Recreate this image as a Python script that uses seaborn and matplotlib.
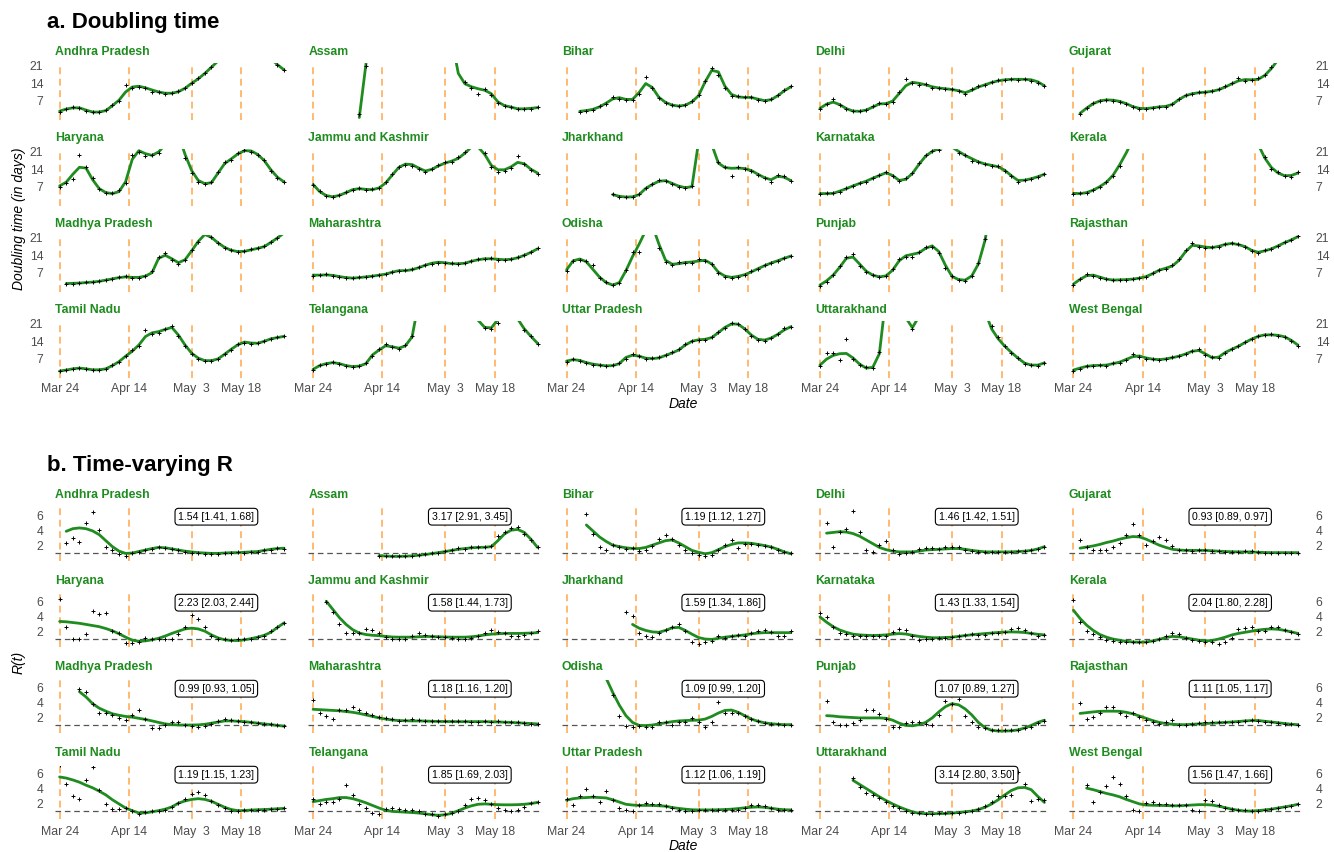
import numpy as np
import pandas as pd
import matplotlib
matplotlib.use("Agg")
import matplotlib.pyplot as plt
import seaborn as sns

N = None

# ---------------------------------------------------------------- data
STATES = [
    "Andhra Pradesh", "Assam", "Bihar", "Delhi", "Gujarat",
    "Haryana", "Jammu and Kashmir", "Jharkhand", "Karnataka", "Kerala",
    "Madhya Pradesh", "Maharashtra", "Odisha", "Punjab", "Rajasthan",
    "Tamil Nadu", "Telangana", "Uttar Pradesh", "Uttarakhand", "West Bengal",
]
DAYS = list(range(0, 69, 2))            # days since 24 March
TICK_DAYS = [0, 21, 40, 55]
TICK_LABELS = ["Mar 24", "Apr 14", "May  3", "May 18"]
LOCKDOWN_DAYS = [0, 21, 40, 55]
DT_TICKS = [7, 14, 21]
R_TICKS = [2, 4, 6]

R_LABELS = [
    "1.54 [1.41, 1.68]", "3.17 [2.91, 3.45]", "1.19 [1.12, 1.27]", "1.46 [1.42, 1.51]", "0.93 [0.89, 0.97]",
    "2.23 [2.03, 2.44]", "1.58 [1.44, 1.73]", "1.59 [1.34, 1.86]", "1.43 [1.33, 1.54]", "2.04 [1.80, 2.28]",
    "0.99 [0.93, 1.05]", "1.18 [1.16, 1.20]", "1.09 [0.99, 1.20]", "1.07 [0.89, 1.27]", "1.11 [1.05, 1.17]",
    "1.19 [1.15, 1.23]", "1.85 [1.69, 2.03]", "1.12 [1.06, 1.19]", "3.14 [2.80, 3.50]", "1.56 [1.47, 1.66]",
]

# doubling time: smoothed fit and daily estimates
andhra_pradesh_dt_fit = [2.8, 3.6, 4.1, 4.1, 3.2, 2.4, 2.4, 3.0, 5.0, 7.2, 10.5, 12.5, 12.8, 12.2, 11.3, 10.5, 10.0, 10.0, 10.6, 12.0, 14.0, 15.8, 18.0, 20.5, 23.0, 26.0, 29.0, 31.0, 32.0, 32.0, 30.0, 27.0, 24.0, 21.5, 19.4]
andhra_pradesh_dt_obs = [2.5, 3.8, 4.3, 4.0, 3.0, 2.3, 2.4, 3.3, 5.4, 6.8, 13.2, 12.3, 12.6, 11.9, 10.6, 10.4, 9.8, 10.1, 10.8, 12.3, 14.2, 16.0, 18.2, 20.6, N, N, N, N, N, N, N, N, N, 21.2, 19.2]
assam_dt_fit = [N, N, N, N, N, N, N, 0.2, 21.5, 45, 60, 60, 60, 60, 60, 60, 60, 55, 50, 48, 42, 32, 18.0, 13.8, 12.6, 11.8, 11.2, 9.8, 6.5, 5.0, 4.4, 3.7, 3.7, 3.9, 4.2]
assam_dt_obs = [N, N, N, N, N, N, N, 1.6, 21.0, N, N, N, N, N, N, N, N, N, N, N, N, N, N, 14.5, 12.0, 9.5, 11.8, 9.3, 6.0, 4.8, 4.3, 3.6, 3.6, 3.8, 4.3]
bihar_dt_fit = [N, N, 2.7, 3.0, 3.5, 4.5, 6.0, 7.7, 8.2, 7.5, 7.5, 10.3, 13.9, 12.3, 8.3, 6.3, 5.2, 4.8, 5.2, 6.5, 9.0, 14.6, 19.2, 18.6, 12.8, 9.5, 8.5, 8.3, 8.3, 7.6, 7.0, 7.4, 9.0, 11.0, 12.6]
bihar_dt_obs = [N, N, 2.6, 3.0, 3.4, 4.7, 5.8, 8.5, 7.8, 7.2, 7.3, 9.5, 16.5, 12.0, 8.0, 6.1, 5.3, 4.7, 5.2, 6.7, 9.3, 15.0, 20.0, 17.5, 12.0, 9.0, 8.8, 8.3, 8.6, 7.4, 7.0, 7.6, 9.2, 11.2, 12.8]
delhi_dt_fit = [3.9, 5.6, 6.4, 5.4, 3.8, 2.8, 2.7, 3.2, 4.4, 5.7, 5.8, 6.8, 9.9, 13.0, 14.4, 14.0, 13.4, 12.6, 12.1, 11.8, 11.5, 11.0, 10.2, 11.2, 12.5, 13.4, 14.3, 15.0, 15.4, 15.6, 15.6, 15.6, 15.4, 14.6, 13.0]
delhi_dt_obs = [3.7, 5.5, 7.8, 5.2, 3.6, 2.7, 2.8, 3.3, 4.8, 6.0, 5.5, 6.5, 10.5, 15.8, 14.0, 13.4, 13.6, 12.2, 12.3, 11.5, 11.8, 10.8, 9.8, 11.5, 12.8, 13.5, 14.5, 15.2, 15.5, 15.7, 15.4, 15.8, 15.0, 14.2, 12.8]
gujarat_dt_fit = [N, 1.9, 4.0, 5.8, 6.9, 7.3, 7.2, 6.7, 5.8, 4.6, 3.9, 3.8, 4.1, 4.5, 4.7, 5.5, 7.5, 9.0, 9.8, 10.2, 10.4, 10.8, 11.4, 12.5, 13.8, 15.0, 15.5, 15.4, 15.6, 17.2, 20.0, 23.5, 27.0, 31.0, 35.0]
gujarat_dt_obs = [N, 1.7, 4.2, 5.9, 7.0, 7.4, 7.0, 6.6, 5.7, 4.3, 3.8, 3.7, 4.2, 4.5, 4.6, 5.8, 7.6, 9.1, 9.8, 10.3, 10.4, 11.0, 11.6, 12.8, 14.0, 16.0, 14.8, 15.3, 16.0, 17.2, 20.5, N, N, N, N]
haryana_dt_fit = [7.3, 8.8, 12.0, 14.8, 14.5, 9.8, 6.2, 4.6, 4.2, 5.0, 9.0, 18.0, 21.5, 20.3, 19.6, 21.0, 24.0, 30.0, 28.0, 20.0, 13.5, 9.5, 8.2, 8.6, 12.5, 16.3, 18.2, 20.2, 21.5, 21.4, 20.0, 17.5, 13.8, 10.8, 8.9]
haryana_dt_obs = [7.0, 8.6, 10.2, 19.9, 14.8, 10.3, 6.0, 4.5, 4.3, 5.5, 8.5, 19.8, 21.0, 19.5, 19.6, 20.5, N, N, N, 18.5, 12.5, 9.0, 8.0, 9.0, 13.0, 16.8, 17.8, 20.5, 21.8, 21.0, 19.8, 17.6, 13.5, 10.5, 8.7]
jammu_kashmir_dt_fit = [7.9, 5.0, 3.4, 2.9, 3.5, 4.6, 5.8, 6.2, 5.9, 5.8, 6.5, 8.5, 11.7, 14.8, 16.1, 15.9, 14.5, 13.3, 14.0, 15.4, 16.5, 17.3, 18.4, 20.5, 23.0, 23.0, 20.0, 15.6, 13.8, 13.8, 15.0, 16.8, 16.2, 14.0, 12.5]
jammu_kashmir_dt_obs = [7.6, 5.2, 3.3, 2.8, 3.6, 4.8, 5.6, 6.4, 5.7, 6.0, 6.3, 9.0, 12.0, 15.0, 15.8, 15.5, 14.2, 13.0, 14.2, 15.6, 16.8, 17.0, 18.8, 20.8, N, N, 20.5, 14.8, 13.0, 13.5, 14.5, 19.4, 16.0, 13.6, 12.0]
jharkhand_dt_fit = [N, N, N, N, N, N, N, 3.8, 3.1, 2.8, 2.9, 3.8, 6.3, 7.9, 9.2, 9.4, 8.3, 7.2, 6.6, 7.0, 25.0, 45.0, 24.0, 16.5, 14.7, 14.4, 14.5, 14.3, 13.5, 12.0, 10.6, 9.8, 11.2, 10.8, 9.4]
jharkhand_dt_obs = [N, N, N, N, N, N, N, 3.9, 3.0, 2.7, 2.8, 4.0, 6.5, 8.2, 9.6, 9.2, 8.0, 7.0, 6.4, 7.2, N, N, N, 17.0, 14.8, 11.4, 14.8, 14.0, 13.3, 11.6, 10.4, 9.0, 11.8, 11.2, 9.2]
karnataka_dt_fit = [4.2, 4.2, 4.3, 5.2, 6.2, 7.3, 8.3, 9.2, 10.4, 11.5, 12.6, 11.5, 9.5, 10.0, 12.3, 16.0, 19.3, 21.2, 22.3, 23.0, 23.0, 21.2, 19.6, 18.3, 17.0, 16.1, 15.6, 15.0, 13.6, 11.4, 9.5, 9.6, 10.2, 11.0, 12.0]
karnataka_dt_obs = [4.0, 4.3, 4.4, 5.0, 6.3, 7.2, 8.5, 9.0, 10.6, 11.8, 12.8, 11.2, 9.3, 10.3, 12.5, 16.5, 19.8, 21.5, 21.8, N, N, 20.5, 19.8, 17.5, 16.8, 16.3, 15.2, 15.5, 13.2, 11.3, 9.0, 9.8, 10.0, 10.8, 12.3]
kerala_dt_fit = [4.3, 4.2, 4.6, 5.6, 7.0, 8.8, 11.6, 15.8, 20.6, 26.0, 32.0, 38.0, 42.0, 45.0, 46.0, 46.0, 46.0, 46.0, 45.0, 44.0, 42.0, 40.0, 38.0, 35.0, 33.0, 32.0, 30.0, 28.0, 24.0, 18.5, 14.7, 12.5, 11.4, 11.5, 12.5]
kerala_dt_obs = [4.0, 4.3, 4.5, 5.8, 6.8, 9.0, 11.3, 15.2, N, N, N, N, N, N, N, N, N, N, N, N, N, N, N, N, N, N, N, N, N, 19.0, 14.2, 12.8, 11.2, 11.0, 12.8]
madhya_pradesh_dt_fit = [N, 2.6, 2.7, 2.8, 3.0, 3.2, 3.5, 4.0, 4.5, 5.0, 5.3, 5.1, 5.1, 5.6, 7.0, 12.8, 14.0, 12.6, 11.0, 12.2, 15.8, 19.6, 22.4, 21.2, 19.0, 17.2, 16.0, 15.5, 15.6, 16.2, 16.8, 17.5, 19.2, 21.0, 23.0]
madhya_pradesh_dt_obs = [N, 2.5, 2.6, 2.8, 3.1, 3.2, 3.6, 4.1, 4.4, 5.2, 5.5, 5.0, 5.0, 5.8, 7.5, 13.5, 14.8, 12.2, 10.3, 12.3, 16.0, 19.5, N, 21.3, 18.8, 17.0, 16.0, 15.3, 15.7, 16.4, 16.8, 17.6, 19.4, 21.0, N]
maharashtra_dt_fit = [6.0, 6.0, 6.1, 5.9, 5.4, 5.0, 4.8, 5.0, 5.3, 5.6, 6.0, 6.4, 7.2, 7.8, 7.8, 8.2, 9.0, 10.0, 10.8, 11.2, 11.0, 10.6, 10.6, 10.8, 11.6, 12.2, 12.6, 12.6, 12.4, 12.2, 12.4, 13.0, 14.0, 15.2, 16.6]
maharashtra_dt_obs = [5.8, 6.2, 6.3, 5.8, 5.2, 5.0, 4.9, 5.1, 5.2, 5.8, 6.2, 6.6, 7.3, 7.6, 7.9, 8.3, 9.3, 10.2, 10.5, 11.0, 10.8, 10.8, 10.3, 11.0, 11.8, 12.4, 12.5, 12.8, 12.3, 12.0, 12.5, 13.2, 14.2, 15.4, 16.8]
odisha_dt_fit = [8.1, 11.8, 12.5, 11.4, 8.3, 5.2, 3.0, 2.0, 3.0, 7.8, 13.5, 18.5, 24.0, 26.0, 18.5, 12.0, 10.4, 10.6, 11.1, 11.3, 11.7, 12.0, 10.5, 7.2, 5.6, 5.1, 5.5, 6.2, 7.3, 8.6, 9.8, 10.9, 11.8, 12.8, 13.7]
odisha_dt_obs = [7.6, 11.8, 12.0, 11.8, 9.9, 5.0, 3.2, 2.2, 3.0, 8.0, 15.5, 15.5, N, N, 16.8, 11.2, 10.0, 11.2, 11.0, 11.0, 12.5, 11.6, 10.4, 6.8, 5.3, 5.0, 5.3, 6.0, 7.7, 8.4, 10.2, 11.0, 11.7, 12.9, 13.8]
punjab_dt_fit = [2.0, 3.7, 6.0, 9.2, 12.8, 13.3, 10.5, 7.6, 6.0, 5.3, 5.7, 8.0, 11.8, 13.8, 14.4, 15.0, 16.8, 17.8, 15.5, 10.0, 5.5, 4.2, 4.0, 5.7, 10.5, 20.0, 35.0, N, N, N, N, N, N, N, N]
punjab_dt_obs = [1.6, 3.3, 6.2, 9.6, 13.5, 14.5, 9.8, 7.4, 6.2, 5.2, 5.6, 8.5, 12.5, 13.5, 13.2, 15.5, 17.2, 17.5, 15.0, 9.0, 5.5, 4.0, 3.8, 5.8, 11.0, 20.6, N, N, N, N, N, N, N, N, N]
rajasthan_dt_fit = [2.4, 4.3, 5.8, 6.0, 5.2, 4.4, 4.0, 4.1, 4.2, 4.4, 4.8, 5.4, 6.6, 8.0, 8.8, 9.7, 12.0, 15.5, 18.0, 17.8, 17.3, 17.1, 17.6, 18.4, 18.8, 18.3, 17.5, 16.0, 15.2, 15.8, 16.6, 17.8, 19.1, 20.2, 21.5]
rajasthan_dt_obs = [2.2, 4.6, 6.3, 5.8, 5.0, 4.3, 4.0, 4.2, 4.2, 4.5, 4.9, 5.3, 6.8, 8.2, 8.6, 9.9, 12.4, 16.0, 18.8, 17.5, 17.0, 17.4, 17.4, 18.6, 18.8, 18.4, 17.2, 15.6, 15.0, 16.0, 16.5, 17.8, 19.4, 20.0, 21.8]
tamil_nadu_dt_fit = [2.0, 2.4, 2.9, 3.2, 2.9, 2.5, 2.5, 2.9, 4.2, 5.8, 8.0, 10.0, 12.5, 15.9, 17.4, 17.9, 18.8, 19.6, 16.5, 12.5, 9.2, 7.2, 6.2, 6.2, 6.9, 8.8, 10.8, 12.6, 13.7, 13.3, 13.2, 14.0, 15.0, 15.5, 16.0]
tamil_nadu_dt_obs = [1.9, 2.5, 3.0, 3.2, 2.8, 2.4, 2.6, 3.0, 4.5, 5.6, 8.2, 10.3, 12.2, 18.5, 17.0, 17.2, 19.0, 20.2, 16.2, 12.0, 9.0, 7.0, 6.0, 6.2, 7.0, 9.0, 10.5, 13.0, 13.4, 13.0, 13.4, 14.2, 15.1, 15.6, 16.2]
telangana_dt_fit = [2.7, 4.2, 5.0, 5.4, 5.0, 4.2, 3.8, 4.0, 5.0, 8.5, 10.5, 12.2, 11.8, 11.2, 12.2, 15.8, 30.0, 38.0, 40.0, 40.0, 40.0, 40.0, 40.0, 35.0, 30.0, 22.5, 19.6, 19.4, 22.8, 30.0, 30.0, 23.0, 19.0, 16.0, 13.2]
telangana_dt_obs = [2.5, 4.4, 5.0, 5.6, 5.0, 4.0, 3.7, 4.1, 5.2, 8.2, 10.8, 12.8, 11.5, 10.8, 12.5, 16.2, N, N, N, N, N, N, N, N, N, N, 19.5, 18.8, 21.5, N, N, N, 18.5, 16.2, 13.0]
uttar_pradesh_dt_fit = [6.0, 6.6, 6.3, 5.4, 4.8, 4.4, 4.1, 4.2, 5.0, 7.5, 8.4, 8.0, 7.2, 7.0, 7.3, 8.3, 9.3, 10.5, 12.5, 14.0, 14.6, 14.8, 15.5, 17.5, 19.6, 21.0, 20.9, 19.0, 16.5, 14.8, 14.5, 15.3, 16.8, 18.6, 19.9]
uttar_pradesh_dt_obs = [5.8, 6.8, 6.2, 5.3, 4.6, 4.3, 4.0, 4.3, 5.3, 7.0, 8.9, 8.0, 7.0, 7.1, 7.5, 8.5, 9.6, 10.8, 12.8, 14.2, 14.5, 14.6, 15.8, 17.7, 19.4, 21.2, 21.0, 18.8, 16.2, 14.6, 14.3, 15.5, 17.0, 19.2, 19.8]
uttarakhand_dt_fit = [4.4, 6.8, 8.3, 9.0, 9.1, 7.3, 4.8, 3.2, 3.5, 9.0, 32.0, 45.0, 40.0, 23.5, 19.5, 24.0, 40.0, 45.0, 45.0, 45.0, 45.0, 45.0, 45.0, 40.0, 33.0, 26.0, 19.0, 15.0, 12.0, 9.5, 7.2, 5.2, 4.4, 4.4, 5.3]
uttarakhand_dt_obs = [4.0, 9.3, 9.3, 6.5, 14.8, 7.0, 4.3, 3.5, 3.3, 9.5, N, N, N, N, 19.0, N, N, N, N, N, N, N, N, N, N, N, 20.0, 15.8, 12.0, 9.2, 7.3, 5.0, 4.5, 4.2, 5.4]
west_bengal_dt_fit = [2.4, 3.2, 3.9, 4.2, 4.3, 4.4, 5.0, 5.6, 6.7, 7.8, 8.1, 7.3, 6.8, 6.6, 6.9, 7.4, 8.0, 8.9, 10.0, 10.3, 8.9, 7.4, 7.6, 9.5, 10.8, 12.0, 13.5, 14.9, 16.0, 16.6, 16.6, 16.4, 15.8, 14.4, 12.5]
west_bengal_dt_obs = [2.2, 3.0, 4.2, 4.0, 4.4, 4.2, 5.2, 5.4, 6.4, 8.8, 7.6, 7.0, 7.0, 6.4, 7.0, 7.5, 8.2, 9.0, 10.2, 11.0, 8.5, 7.8, 7.2, 9.3, 11.0, 12.2, 13.6, 15.0, 16.2, 16.5, 16.8, 16.3, 15.6, 14.2, 12.3]

# time-varying R: smoothed fit and daily estimates
andhra_pradesh_r_fit = [N, 3.85, 4.2, 4.3, 4.2, 3.9, 3.4, 2.6, 1.8, 1.2, 0.9, 0.95, 1.15, 1.35, 1.55, 1.7, 1.65, 1.5, 1.35, 1.2, 1.1, 1.0, 0.95, 0.9, 0.9, 0.95, 1.0, 1.0, 1.05, 1.1, 1.15, 1.3, 1.45, 1.55, 1.6]
andhra_pradesh_r_obs = [N, 2.3, 2.9, 2.4, 4.9, 6.4, 4.0, 1.8, 1.3, 0.8, 0.6, 0.9, 1.1, 1.4, 1.5, 1.7, 1.6, 1.5, 1.3, 1.1, 1.0, 0.95, 0.85, 0.8, 0.85, 0.9, 1.0, 1.05, 1.0, 1.1, 1.1, 1.3, 1.4, 1.6, 1.5]
assam_r_fit = [N, N, N, N, N, N, N, N, N, N, 0.6, 0.55, 0.5, 0.5, 0.52, 0.58, 0.65, 0.75, 0.88, 1.0, 1.15, 1.3, 1.45, 1.55, 1.65, 1.7, 1.72, 1.8, 2.6, 3.5, 4.0, 4.1, 3.7, 2.8, 1.7]
assam_r_obs = [N, N, N, N, N, N, N, N, N, N, 0.6, 0.55, 0.5, 0.5, 0.55, 0.6, 0.65, 0.8, 0.9, 1.0, 1.2, 1.4, 1.6, 1.5, 1.7, 1.8, 1.7, 1.9, 3.2, 3.8, 4.3, 4.4, 3.5, 2.7, 1.8]
bihar_r_fit = [N, N, N, 4.7, 3.9, 3.1, 2.5, 2.0, 1.8, 1.65, 1.55, 1.55, 1.7, 2.0, 2.3, 2.6, 2.7, 2.3, 1.8, 1.3, 1.05, 0.85, 1.0, 1.4, 1.8, 2.1, 2.3, 2.3, 2.25, 2.1, 1.95, 1.75, 1.45, 1.1, 0.85]
bihar_r_obs = [N, N, N, 6.1, 3.5, 1.8, 1.3, 2.0, 1.7, 1.5, 1.6, 1.2, 1.3, 1.9, 2.8, 3.3, 2.8, 2.0, 1.4, 1.0, 0.7, 0.5, 0.7, 1.3, 2.0, 2.7, 1.6, 2.2, 2.1, 2.0, 1.9, 1.7, 1.4, 1.1, 0.9]
delhi_r_fit = [N, 3.6, 3.7, 3.8, 3.75, 3.55, 3.2, 2.7, 2.2, 1.7, 1.4, 1.2, 1.1, 1.1, 1.1, 1.2, 1.35, 1.4, 1.45, 1.5, 1.55, 1.55, 1.45, 1.3, 1.2, 1.1, 1.1, 1.1, 1.1, 1.1, 1.15, 1.2, 1.3, 1.5, 1.8]
delhi_r_obs = [N, 4.9, 1.8, 3.8, 4.2, 6.6, 3.7, 1.4, 1.1, 2.0, 2.6, 1.4, 0.8, 0.9, 1.05, 1.5, 1.6, 1.6, 1.5, 1.7, 1.8, 1.7, 1.3, 1.2, 1.1, 1.05, 1.05, 1.1, 1.05, 1.1, 1.2, 1.25, 1.35, 1.5, 1.8]
gujarat_r_fit = [N, 1.6, 1.75, 1.9, 2.1, 2.35, 2.55, 2.8, 3.0, 3.15, 3.1, 2.8, 2.4, 2.0, 1.7, 1.45, 1.35, 1.3, 1.3, 1.3, 1.3, 1.25, 1.2, 1.15, 1.12, 1.1, 1.1, 1.1, 1.05, 1.02, 1.0, 1.0, 1.0, 1.0, 1.0]
gujarat_r_obs = [N, 2.7, 1.8, 1.4, 1.3, 1.4, 1.8, 2.3, 3.4, 4.8, 3.3, 2.0, 2.5, 3.1, 2.7, 1.9, 1.4, 1.3, 1.25, 1.3, 1.3, 1.25, 1.2, 1.15, 1.15, 1.1, 1.2, 1.2, 1.1, 1.0, 1.0, 1.0, 1.0, 1.0, 1.0]
haryana_r_fit = [3.3, 3.25, 3.15, 3.05, 2.9, 2.75, 2.6, 2.35, 2.05, 1.65, 1.2, 0.8, 0.65, 0.7, 0.85, 1.05, 1.35, 1.7, 2.0, 2.3, 2.4, 2.3, 2.0, 1.5, 1.1, 0.85, 0.75, 0.75, 0.85, 1.0, 1.2, 1.45, 1.85, 2.5, 3.1]
haryana_r_obs = [6.3, 2.6, 1.0, 0.9, 1.6, 4.7, 4.3, 4.4, 2.0, 1.7, 0.4, 0.4, 0.5, 1.1, 1.0, 1.0, 1.0, 1.0, 1.6, 2.6, 4.2, 3.6, 2.5, 1.3, 1.0, 0.9, 0.85, 0.9, 0.9, 1.0, 1.2, 1.4, 2.0, 2.6, 3.1]
jammu_kashmir_r_fit = [N, N, 6.0, 4.9, 3.8, 2.9, 2.2, 1.75, 1.55, 1.45, 1.4, 1.3, 1.22, 1.2, 1.2, 1.2, 1.25, 1.3, 1.28, 1.25, 1.22, 1.2, 1.2, 1.2, 1.25, 1.35, 1.5, 1.6, 1.65, 1.7, 1.7, 1.7, 1.72, 1.75, 1.8]
jammu_kashmir_r_obs = [N, N, 5.9, 4.6, 2.9, 1.8, 1.7, 1.8, 2.3, 2.2, 1.8, 1.2, 1.0, 0.95, 1.0, 1.3, 1.7, 1.5, 1.35, 1.25, 1.2, 1.1, 1.0, 1.0, 1.1, 1.4, 1.8, 2.1, 1.9, 1.7, 1.3, 1.3, 1.5, 1.8, 2.0]
jharkhand_r_fit = [N, N, N, N, N, N, N, N, N, N, 2.9, 2.4, 2.1, 1.9, 1.85, 2.1, 2.45, 2.5, 2.1, 1.6, 1.15, 0.95, 0.9, 1.05, 1.2, 1.3, 1.4, 1.5, 1.65, 1.75, 1.8, 1.8, 1.8, 1.8, 1.8]
jharkhand_r_obs = [N, N, N, N, N, N, N, N, N, 4.5, 4.0, 1.7, 1.3, 1.2, 1.8, 2.2, 2.5, 3.0, 2.0, 0.5, 0.3, 0.6, 0.7, 1.4, 1.1, 1.4, 1.5, 1.3, 1.7, 2.0, 2.2, 1.9, 1.3, 1.4, 2.0]
karnataka_r_fit = [3.9, 3.2, 2.6, 2.15, 1.85, 1.6, 1.5, 1.45, 1.42, 1.45, 1.5, 1.6, 1.68, 1.62, 1.45, 1.3, 1.2, 1.12, 1.12, 1.15, 1.2, 1.3, 1.42, 1.52, 1.6, 1.68, 1.75, 1.82, 1.88, 1.9, 1.88, 1.82, 1.7, 1.58, 1.5]
karnataka_r_obs = [4.4, 3.9, 2.5, 1.8, 1.6, 1.4, 1.3, 1.3, 1.35, 1.35, 1.4, 1.9, 2.3, 2.1, 1.3, 0.85, 0.95, 1.0, 1.05, 1.15, 1.2, 1.3, 1.5, 1.6, 1.55, 1.55, 1.7, 1.7, 1.85, 2.3, 2.4, 2.2, 1.7, 1.3, 1.5]
kerala_r_fit = [4.8, 3.7, 2.8, 2.1, 1.55, 1.2, 0.95, 0.78, 0.65, 0.55, 0.52, 0.55, 0.7, 0.9, 1.15, 1.3, 1.25, 1.1, 0.95, 0.8, 0.7, 0.75, 0.95, 1.2, 1.5, 1.7, 1.85, 2.0, 2.15, 2.25, 2.3, 2.25, 2.1, 1.9, 1.7]
kerala_r_obs = [6.1, 3.2, 2.0, 1.6, 1.2, 0.8, 0.7, 0.6, 0.6, 0.5, 0.55, 0.55, 0.65, 0.95, 1.4, 1.7, 1.6, 1.1, 0.8, 0.7, 0.55, 0.5, 0.25, 0.6, 1.1, 2.3, 2.4, 2.6, 2.0, 2.0, 2.5, 2.6, 2.1, 1.9, 1.6]
madhya_pradesh_r_fit = [N, N, N, 5.4, 4.7, 3.8, 3.2, 2.8, 2.45, 2.25, 2.1, 2.0, 1.85, 1.7, 1.5, 1.3, 1.1, 1.0, 0.95, 0.95, 0.95, 0.97, 1.05, 1.2, 1.35, 1.5, 1.5, 1.45, 1.4, 1.3, 1.2, 1.1, 1.0, 0.9, 0.8]
madhya_pradesh_r_obs = [N, N, N, 5.8, 5.3, 3.7, 2.6, 2.6, 2.3, 1.9, 1.6, 2.3, 2.9, 1.8, 0.6, 0.5, 1.0, 1.4, 1.35, 1.0, 0.8, 0.7, 0.85, 1.1, 1.5, 1.75, 1.6, 1.45, 1.4, 1.3, 1.2, 1.1, 1.05, 0.9, 0.8]
maharashtra_r_fit = [3.05, 3.0, 2.95, 2.9, 2.85, 2.75, 2.65, 2.5, 2.3, 2.1, 1.9, 1.75, 1.62, 1.55, 1.52, 1.5, 1.5, 1.48, 1.45, 1.43, 1.42, 1.41, 1.4, 1.4, 1.4, 1.4, 1.4, 1.38, 1.36, 1.33, 1.3, 1.25, 1.2, 1.15, 1.1]
maharashtra_r_obs = [4.3, 2.6, 2.2, 1.8, 3.0, 2.9, 3.3, 2.9, 2.5, 2.3, 2.0, 1.9, 1.7, 1.55, 1.6, 1.8, 1.6, 1.5, 1.45, 1.5, 1.5, 1.5, 1.45, 1.45, 1.4, 1.4, 1.45, 1.4, 1.45, 1.4, 1.35, 1.3, 1.25, 1.15, 1.1]
odisha_r_fit = [N, N, N, N, N, 9.5, 7.2, 5.3, 3.6, 2.2, 1.3, 0.9, 0.88, 0.95, 1.1, 1.25, 1.4, 1.5, 1.55, 1.58, 1.6, 1.75, 2.1, 2.55, 2.9, 2.95, 2.65, 2.2, 1.75, 1.45, 1.25, 1.12, 1.05, 1.0, 1.0]
odisha_r_obs = [N, N, N, N, N, N, N, 5.0, 2.1, 0.8, 0.7, 0.85, 0.7, 0.65, 1.3, 1.4, 1.0, 1.4, 1.4, 1.9, 1.3, 0.7, 1.3, 4.0, 2.6, 2.6, 2.5, 2.2, 1.8, 1.5, 1.2, 1.1, 1.05, 1.0, 1.0]
punjab_r_fit = [N, 2.2, 2.15, 2.05, 2.0, 1.95, 1.9, 1.9, 1.9, 1.9, 1.85, 1.6, 1.2, 0.9, 0.85, 1.0, 1.3, 1.9, 2.7, 3.4, 3.8, 3.65, 3.1, 2.3, 1.3, 0.6, 0.25, 0.15, 0.15, 0.18, 0.3, 0.55, 0.9, 1.3, 1.6]
punjab_r_obs = [N, 4.2, 1.3, 1.0, 0.9, 1.2, 1.6, 2.9, 2.9, 2.4, 1.7, 0.7, 0.7, 1.2, 1.3, 1.3, 1.1, 1.0, 2.3, 4.2, 3.8, 4.4, 2.2, 1.4, 0.7, 0.6, 0.35, 0.3, 0.3, 0.3, 0.35, 0.5, 0.7, 1.2, 1.5]
rajasthan_r_fit = [N, 2.5, 2.6, 2.7, 2.78, 2.8, 2.8, 2.78, 2.65, 2.45, 2.15, 1.85, 1.55, 1.3, 1.15, 1.05, 1.0, 1.0, 1.05, 1.1, 1.15, 1.2, 1.25, 1.3, 1.35, 1.42, 1.5, 1.55, 1.55, 1.45, 1.35, 1.25, 1.15, 1.05, 1.0]
rajasthan_r_obs = [N, 3.9, 1.8, 2.0, 2.6, 3.4, 3.3, 2.6, 2.2, 2.6, 2.0, 1.6, 1.3, 1.1, 1.3, 1.6, 1.0, 0.9, 1.1, 1.2, 1.3, 1.35, 1.35, 1.35, 1.4, 1.4, 1.5, 1.6, 1.5, 1.4, 1.3, 1.2, 1.1, 1.05, 1.0]
tamil_nadu_r_fit = [5.5, 5.35, 5.1, 4.8, 4.4, 4.05, 3.6, 3.1, 2.45, 1.9, 1.35, 1.0, 0.7, 0.7, 0.85, 1.0, 1.2, 1.5, 2.0, 2.3, 2.5, 2.6, 2.5, 2.25, 1.85, 1.45, 1.15, 1.0, 1.02, 1.08, 1.12, 1.15, 1.2, 1.25, 1.3]
tamil_nadu_r_obs = [7.1, 4.6, 3.0, 2.6, 5.1, 6.8, 3.8, 1.9, 1.2, 1.2, 1.3, 0.9, 0.6, 0.8, 0.95, 1.0, 1.1, 1.5, 2.0, 2.5, 3.2, 3.5, 3.1, 2.3, 1.8, 1.4, 1.0, 0.9, 1.05, 1.1, 1.15, 1.15, 1.2, 1.25, 1.3]
telangana_r_fit = [2.2, 2.35, 2.5, 2.6, 2.75, 2.75, 2.6, 2.35, 2.05, 1.7, 1.35, 1.05, 0.9, 0.85, 0.8, 0.75, 0.68, 0.58, 0.45, 0.38, 0.45, 0.65, 1.0, 1.35, 1.65, 1.85, 1.9, 1.85, 1.8, 1.78, 1.78, 1.8, 1.85, 1.95, 2.1]
telangana_r_obs = [2.5, 1.9, 2.1, 2.1, 2.5, 4.4, 3.1, 1.9, 1.3, 0.7, 0.6, 1.2, 1.3, 1.2, 1.1, 1.1, 0.9, 0.6, 0.5, 0.3, 0.5, 0.7, 0.9, 1.8, 2.5, 2.7, 2.4, 1.9, 1.3, 1.1, 1.0, 1.05, 1.5, 2.0, 2.2]
uttar_pradesh_r_fit = [2.4, 2.6, 2.7, 2.75, 2.8, 2.75, 2.7, 2.45, 2.15, 1.85, 1.75, 1.7, 1.7, 1.7, 1.65, 1.6, 1.42, 1.3, 1.2, 1.12, 1.1, 1.1, 1.1, 1.12, 1.15, 1.2, 1.28, 1.38, 1.45, 1.5, 1.45, 1.32, 1.2, 1.12, 1.1]
uttar_pradesh_r_obs = [2.6, 1.7, 3.0, 3.9, 3.0, 2.2, 3.6, 2.4, 1.4, 1.1, 1.0, 1.7, 2.0, 1.95, 1.85, 1.6, 1.3, 1.1, 1.0, 0.9, 1.1, 1.15, 1.15, 1.1, 1.05, 1.05, 1.1, 1.4, 1.7, 1.8, 1.6, 1.35, 1.15, 1.1, 1.1]
uttarakhand_r_fit = [N, N, N, N, N, 5.05, 4.5, 3.95, 3.4, 2.85, 2.35, 1.9, 1.5, 1.15, 0.85, 0.65, 0.6, 0.6, 0.6, 0.62, 0.68, 0.75, 0.85, 0.95, 1.15, 1.45, 1.9, 2.45, 3.1, 3.7, 4.05, 4.1, 3.8, 2.9, 2.1]
uttarakhand_r_obs = [N, N, N, N, N, 5.3, 4.1, 3.3, 3.1, 2.7, 2.1, 1.6, 1.4, 1.0, 0.75, 0.65, 0.6, 0.62, 0.65, 0.65, 0.7, 0.75, 0.8, 0.95, 1.2, 1.6, 2.2, 2.9, 3.0, 3.1, 6.1, 4.6, 2.3, 2.6, 2.4]
west_bengal_r_fit = [N, N, 4.0, 3.8, 3.55, 3.3, 3.1, 2.85, 2.5, 2.2, 1.9, 1.75, 1.72, 1.7, 1.68, 1.65, 1.65, 1.7, 1.75, 1.8, 1.8, 1.75, 1.6, 1.4, 1.2, 1.05, 0.95, 0.95, 1.0, 1.1, 1.2, 1.35, 1.5, 1.65, 1.85]
west_bengal_r_obs = [N, N, 4.4, 2.2, 3.5, 4.3, 5.5, 4.6, 3.0, 1.1, 1.0, 2.0, 2.1, 1.9, 1.85, 1.8, 1.75, 1.8, 1.1, 0.9, 2.4, 2.3, 1.7, 1.3, 1.2, 1.15, 1.1, 1.0, 1.0, 1.1, 1.2, 1.3, 1.45, 1.6, 1.85]

SERIES = {
    "Andhra Pradesh": (andhra_pradesh_dt_fit, andhra_pradesh_dt_obs, andhra_pradesh_r_fit, andhra_pradesh_r_obs),
    "Assam": (assam_dt_fit, assam_dt_obs, assam_r_fit, assam_r_obs),
    "Bihar": (bihar_dt_fit, bihar_dt_obs, bihar_r_fit, bihar_r_obs),
    "Delhi": (delhi_dt_fit, delhi_dt_obs, delhi_r_fit, delhi_r_obs),
    "Gujarat": (gujarat_dt_fit, gujarat_dt_obs, gujarat_r_fit, gujarat_r_obs),
    "Haryana": (haryana_dt_fit, haryana_dt_obs, haryana_r_fit, haryana_r_obs),
    "Jammu and Kashmir": (jammu_kashmir_dt_fit, jammu_kashmir_dt_obs, jammu_kashmir_r_fit, jammu_kashmir_r_obs),
    "Jharkhand": (jharkhand_dt_fit, jharkhand_dt_obs, jharkhand_r_fit, jharkhand_r_obs),
    "Karnataka": (karnataka_dt_fit, karnataka_dt_obs, karnataka_r_fit, karnataka_r_obs),
    "Kerala": (kerala_dt_fit, kerala_dt_obs, kerala_r_fit, kerala_r_obs),
    "Madhya Pradesh": (madhya_pradesh_dt_fit, madhya_pradesh_dt_obs, madhya_pradesh_r_fit, madhya_pradesh_r_obs),
    "Maharashtra": (maharashtra_dt_fit, maharashtra_dt_obs, maharashtra_r_fit, maharashtra_r_obs),
    "Odisha": (odisha_dt_fit, odisha_dt_obs, odisha_r_fit, odisha_r_obs),
    "Punjab": (punjab_dt_fit, punjab_dt_obs, punjab_r_fit, punjab_r_obs),
    "Rajasthan": (rajasthan_dt_fit, rajasthan_dt_obs, rajasthan_r_fit, rajasthan_r_obs),
    "Tamil Nadu": (tamil_nadu_dt_fit, tamil_nadu_dt_obs, tamil_nadu_r_fit, tamil_nadu_r_obs),
    "Telangana": (telangana_dt_fit, telangana_dt_obs, telangana_r_fit, telangana_r_obs),
    "Uttar Pradesh": (uttar_pradesh_dt_fit, uttar_pradesh_dt_obs, uttar_pradesh_r_fit, uttar_pradesh_r_obs),
    "Uttarakhand": (uttarakhand_dt_fit, uttarakhand_dt_obs, uttarakhand_r_fit, uttarakhand_r_obs),
    "West Bengal": (west_bengal_dt_fit, west_bengal_dt_obs, west_bengal_r_fit, west_bengal_r_obs),
}

# ---------------------------------------------------------------- tidy tables
rows = []
for state, (dtf, dto, rf, ro) in SERIES.items():
    for name, seq in (("dt_fit", dtf), ("dt_obs", dto), ("r_fit", rf), ("r_obs", ro)):
        if len(seq) != len(DAYS):
            raise ValueError(f"{state} {name}: {len(seq)} values")
    rows.append(pd.DataFrame({
        "state": state, "day": DAYS,
        "dt_fit": np.array(dtf, dtype=float), "dt_obs": np.array(dto, dtype=float),
        "r_fit": np.array(rf, dtype=float), "r_obs": np.array(ro, dtype=float),
    }))
df = pd.concat(rows, ignore_index=True)

# ---------------------------------------------------------------- style
sns.set_theme(style="white")
plt.rcParams["font.family"] = ["Liberation Sans", "DejaVu Sans"]

GREEN = "#1f8c1f"
ORANGE = "#ffa54a"
TICK_GREY = "#4d4d4d"

W, H = 1334, 852
fig = plt.figure(figsize=(W / 100, H / 100), dpi=100)

XLIM = (-1.4, 68.8)
COL_LEFT = [55 + 253.45 * c for c in range(5)]
PANEL_W = 231.7

PANELS = [
    dict(fit="dt_fit", obs="dt_obs", top=62.7, height=57.3, ylim=(-0.8, 22.3), ticks=DT_TICKS,
         strip=10.7, xpad=3.5, title="a. Doubling time", title_y=22.5,
         ylabel="Doubling time (in days)", ylabel_y=219, date_y=404),
    dict(fit="r_fit", obs="r_obs", top=507.7, height=53.2, ylim=(-0.1, 7.0), ticks=R_TICKS,
         strip=12.7, xpad=5.0, title="b. Time-varying R", title_y=465,
         ylabel="R(t)", ylabel_y=662, date_y=846),
]


def add_axes_px(left, top, width, height):
    return fig.add_axes([left / W, 1 - (top + height) / H, width / W, height / H])


for spec in PANELS:
    fig.text(47 / W, 1 - spec["title_y"] / H, spec["title"], fontsize=16,
             fontweight="bold", va="center", ha="left", color="black")
    fig.text(19 / W, 1 - spec["ylabel_y"] / H, spec["ylabel"], rotation=90,
             style="italic", fontsize=10, va="center", ha="center", color="black")
    fig.text(683 / W, 1 - spec["date_y"] / H, "Date", style="italic",
             fontsize=10, va="center", ha="center", color="black")

    for i, state in enumerate(STATES):
        r, c = divmod(i, 5)
        top = spec["top"] + 86 * r
        left = COL_LEFT[c]
        ax = add_axes_px(left, top, PANEL_W, spec["height"])
        sub = df[df["state"] == state]

        for d in LOCKDOWN_DAYS:
            ax.axvline(d, color=ORANGE, lw=1.1, ls=(0, (4.5, 3)), zorder=1)
        if spec["fit"] == "r_fit":
            ax.axhline(1, color="#555555", lw=0.9, ls=(0, (4.5, 3)), zorder=1)

        fit = sub.dropna(subset=[spec["fit"]])
        obs = sub.dropna(subset=[spec["obs"]])
        sns.lineplot(data=fit, x="day", y=spec["fit"], ax=ax, color=GREEN,
                     linewidth=2.0, estimator=None, sort=True, zorder=2)
        sns.scatterplot(data=obs, x="day", y=spec["obs"], ax=ax, marker="+",
                        color="black", s=10, linewidth=0.7, zorder=3)

        if spec["fit"] == "r_fit":
            ax.text(47.5, 5.8, R_LABELS[i], ha="center", va="center", fontsize=7.6,
                    color="black", zorder=4,
                    bbox=dict(boxstyle="round,pad=0.32,rounding_size=0.35",
                              fc="white", ec="black", lw=0.8))

        ax.set_xlim(*XLIM)
        ax.set_ylim(*spec["ylim"])
        ax.set_xlabel("")
        ax.set_ylabel("")
        for s in ax.spines.values():
            s.set_visible(False)
        ax.set_facecolor("none")

        ax.set_xticks(TICK_DAYS)
        if r == 3:
            ax.set_xticklabels(TICK_LABELS)
        else:
            ax.set_xticklabels([])
        ax.tick_params(axis="x", length=0, pad=spec["xpad"], labelsize=8.8,
                       labelcolor=TICK_GREY)

        ax.set_yticks(spec["ticks"])
        ax.set_yticklabels([str(t) for t in spec["ticks"]])
        if c == 0:
            ax.tick_params(axis="y", length=0, pad=8.5, labelsize=8.8,
                           labelcolor=TICK_GREY, left=True, labelleft=True,
                           right=False, labelright=False)
        elif c == 4:
            ax.tick_params(axis="y", length=0, pad=11, labelsize=8.8,
                           labelcolor=TICK_GREY, left=False, labelleft=False,
                           right=True, labelright=True)
        else:
            ax.tick_params(axis="y", length=0, labelleft=False, labelright=False)

        fig.text(left / W, 1 - (top - spec["strip"]) / H, state, color=GREEN,
                 fontsize=8.8, fontweight="bold", va="center", ha="left")

fig.savefig("out.png", dpi=100, facecolor="white")
